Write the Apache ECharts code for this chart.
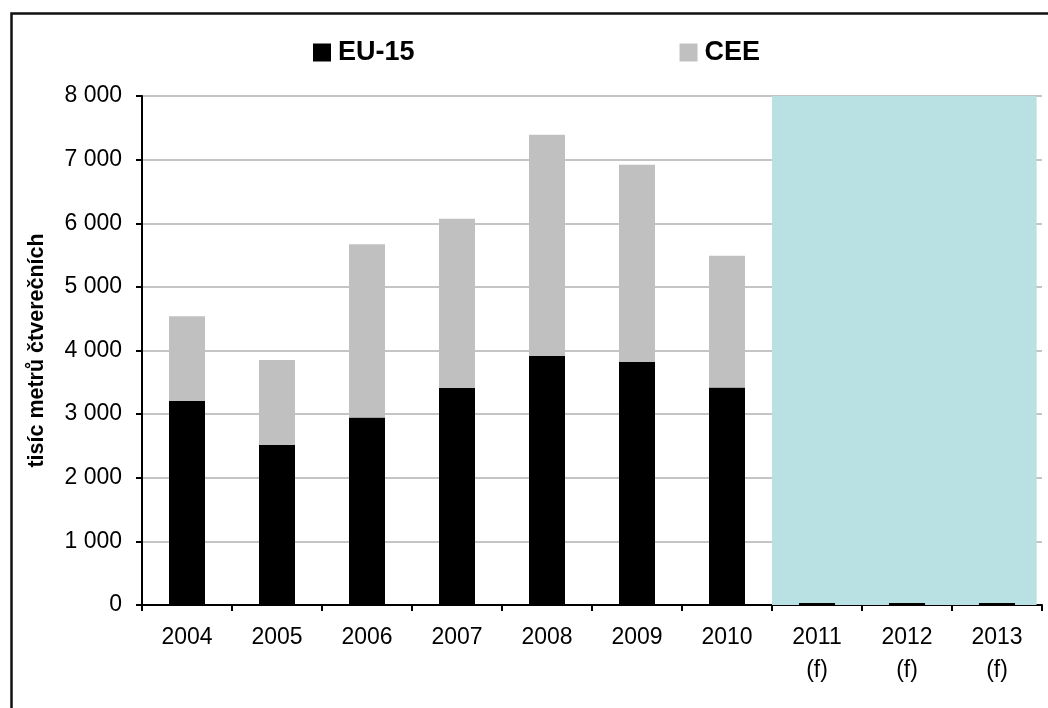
<!DOCTYPE html>
<html>
<head>
<meta charset="utf-8">
<script src="https://cdn.jsdelivr.net/npm/echarts@6/dist/echarts.min.js"></script>
<style>
  html, body { margin: 0; padding: 0; background: #fff; }
  #chart { width: 1048px; height: 708px; }
</style>
</head>
<body>
<div id="chart"></div>
<script>
// Roky (prognóza pro 2011–2013)
const categories = ['2004', '2005', '2006', '2007', '2008', '2009', '2010', '2011\n(f)', '2012\n(f)', '2013\n(f)'];
// Nové nákupní plochy, tisíc m²
const eu15 = [3210, 2520, 2945, 3410, 3915, 3820, 3420, 30, 30, 30];
const cee  = [1330, 1330, 2725, 2660, 3475, 3100, 2070, 0, 0, 0];
// Rozsah prognózovaného období na pomocné ose (v jednotkách kategorií)
const forecastFrom = 7;
const forecastTo = 9.94;
const yTicks = { min: 0, max: 8000, step: 1000 };

const FONT = '"Liberation Sans", Arial, sans-serif';

const chart = echarts.init(document.getElementById('chart'), null, { renderer: 'canvas' });

const fmt = v => String(v).replace(/\B(?=(\d{3})+(?!\d))/g, ' ');

chart.setOption({
  animation: false,
  backgroundColor: '#ffffff',
  textStyle: { fontFamily: FONT },
  graphic: [{
    type: 'rect',
    silent: true,
    z: 100,
    shape: { x: 11.5, y: 13.5, width: 1100, height: 800 },
    style: { fill: 'none', stroke: '#111', lineWidth: 2.5 }
  }],
  legend: {
    left: 313,
    top: 39,
    padding: 0,
    itemWidth: 18,
    itemHeight: 18,
    itemGap: 265,
    icon: 'rect',
    textStyle: { fontFamily: FONT, fontSize: 27, fontWeight: 'bold', color: '#000', padding: [0, 0, 0, 2] },
    data: ['EU-15', 'CEE']
  },
  grid: { left: 142, right: 6, top: 96, bottom: 103, containLabel: false },
  xAxis: [{
    type: 'category',
    data: categories,
    axisLine: { lineStyle: { color: '#000', width: 2 } },
    axisTick: { show: true, alignWithLabel: false, length: 6, lineStyle: { color: '#000', width: 2 } },
    axisLabel: { color: '#000', fontSize: 23, fontFamily: FONT, margin: 16, lineHeight: 33, interval: 0 },
    splitLine: { show: false }
  }, {
    type: 'value',
    min: 0,
    max: 10,
    show: false
  }],
  yAxis: {
    type: 'value',
    min: yTicks.min,
    max: yTicks.max,
    interval: yTicks.step,
    name: 'tisíc metrů čtverečních',
    nameLocation: 'middle',
    nameRotate: 90,
    nameGap: 94,
    nameTextStyle: { fontFamily: FONT, fontSize: 21.5, fontWeight: 'bold', color: '#000' },
    axisLine: { show: true, lineStyle: { color: '#000', width: 2 } },
    axisTick: { show: true, length: 6, lineStyle: { color: '#000', width: 2 } },
    axisLabel: { color: '#000', fontSize: 23, fontFamily: FONT, margin: 20, formatter: fmt },
    splitLine: { show: true, lineStyle: { color: '#c4c4c4', width: 2 } }
  },
  series: [
    {
      name: 'forecast',
      type: 'line',
      xAxisIndex: 1,
      data: [],
      silent: true,
      z: 1,
      markArea: {
        silent: true,
        itemStyle: { color: '#b9e0e3', opacity: 1 },
        data: [[{ xAxis: forecastFrom, yAxis: yTicks.min }, { xAxis: forecastTo, yAxis: yTicks.max }]]
      }
    },
    {
      name: 'EU-15',
      type: 'bar',
      stack: 'total',
      barWidth: '40%',
      z: 3,
      itemStyle: { color: '#000000' },
      data: eu15
    },
    {
      name: 'CEE',
      type: 'bar',
      stack: 'total',
      barWidth: '40%',
      z: 3,
      itemStyle: { color: '#c0c0c0' },
      data: cee
    }
  ]
});
</script>
</body>
</html>
